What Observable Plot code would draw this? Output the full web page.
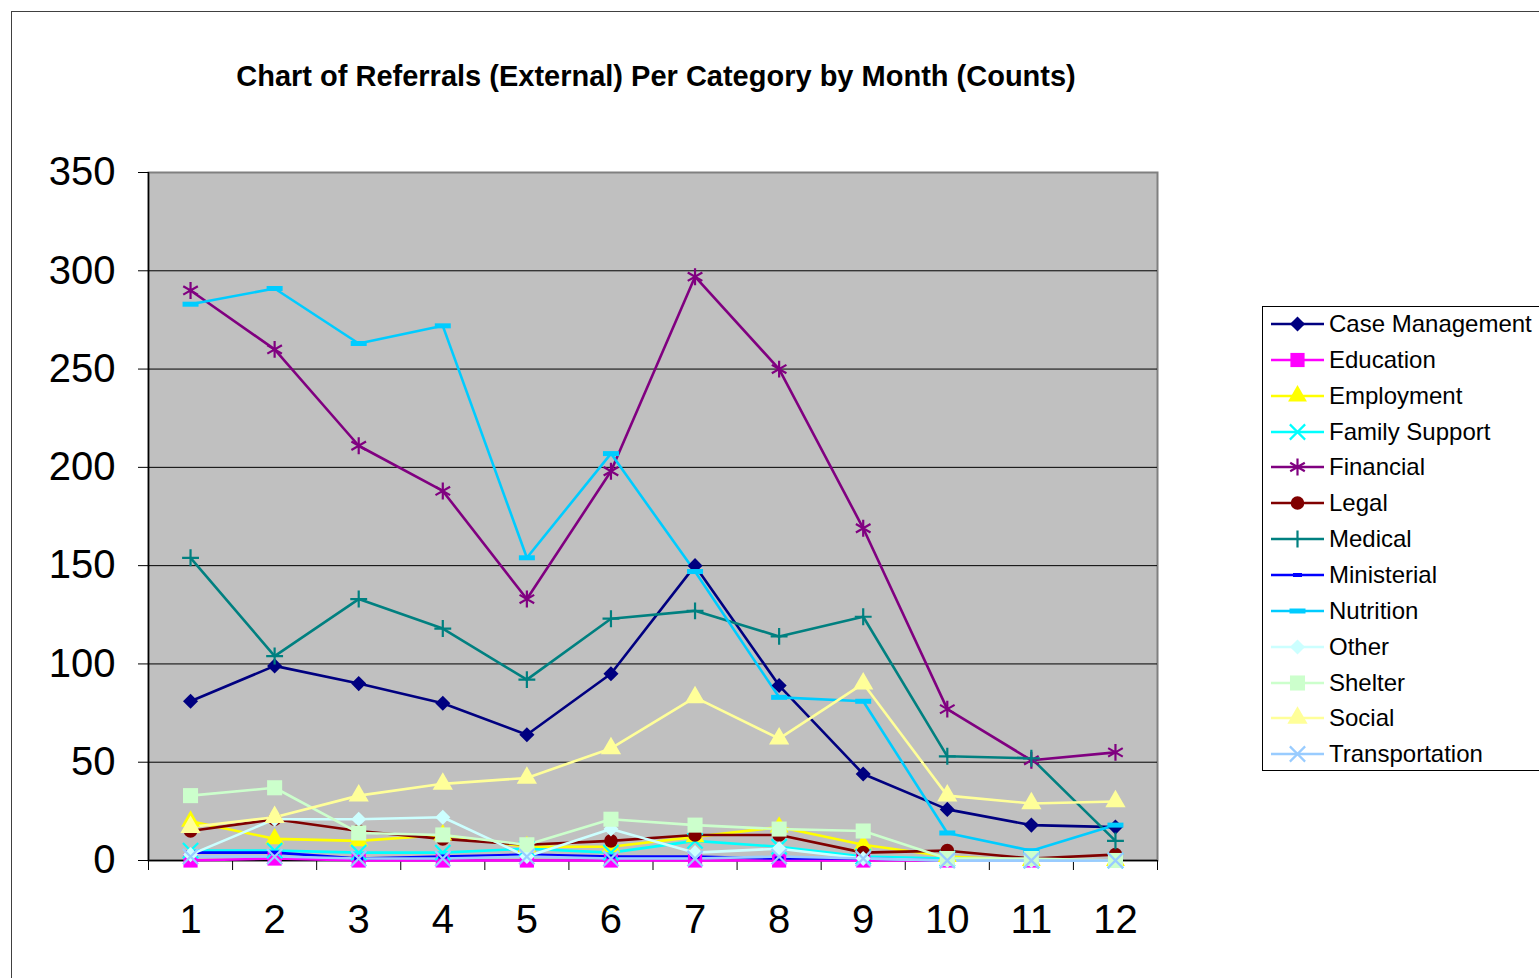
<!DOCTYPE html>
<html>
<head>
<meta charset="utf-8">
<script src="https://cdn.jsdelivr.net/npm/d3@7"></script>
<script src="https://cdn.jsdelivr.net/npm/@observablehq/plot@0.6"></script>
<style>
  html, body { margin: 0; padding: 0; background: #fff; overflow: hidden; }
  #wrap { position: relative; width: 1539px; height: 978px; font-family: "Liberation Sans", Arial, sans-serif; }
  #border { position: absolute; left: 11px; top: 11px; width: 1600px; height: 1100px; border: 1.5px solid #404040; box-sizing: border-box; }
  #title { position: absolute; left: 656px; top: 59px; transform: translateX(-50%); white-space: nowrap; font-weight: bold; font-size: 29px; line-height: 34px; color: #000; }
  #chart { position: absolute; left: 0; top: 0; }
  #legend { position: absolute; left: 1262px; top: 306px; width: 300px; height: 465px; border: 1.5px solid #000; box-sizing: border-box; background: #fff; }
  .row { position: absolute; left: 0; height: 36px; display: flex; align-items: center; }
  .row svg { display: block; margin-left: 6px; }
  .row span { font-size: 24px; color: #000; margin-left: 4px; white-space: nowrap; }
</style>
</head>
<body>
<div id="wrap">
  <div id="chart"></div>
  <div id="border"></div>
  <div id="title">Chart of Referrals (External) Per Category by Month (Counts)</div>
  <div id="legend"></div>
</div>
<script>
// ---- Data ----
const months = [1, 2, 3, 4, 5, 6, 7, 8, 9, 10, 11, 12];
const categories = ["Case Management", "Education", "Employment", "Family Support", "Financial", "Legal", "Medical", "Ministerial", "Nutrition", "Other", "Shelter", "Social", "Transportation"];
const caseManagement = [81, 99, 90, 80, 64, 95, 150, 89, 44, 26, 18, 17];
const education      = [0, 1, 0, 0, 0, 0, 0, 0, 0, 0, 0, 0];
const employment     = [20, 11, 10, 13, 7, 7, 12, 17, 8, 2, 0, 0];
const familySupport  = [5, 5, 4, 4, 6, 4, 10, 7, 2, 1, 0, 0];
const financial      = [290, 260, 211, 188, 133, 198, 297, 250, 169, 77, 51, 55];
const legal          = [15, 21, 15, 11, 8, 10, 13, 13, 4, 5, 1, 3];
const medical        = [154, 104, 133, 118, 92, 123, 127, 114, 124, 53, 52, 10];
const ministerial    = [4, 4, 1, 2, 3, 2, 2, 1, 1, 0, 0, 0];
const nutrition      = [283, 291, 263, 272, 154, 207, 147, 83, 81, 14, 5, 18];
const other          = [3, 21, 21, 22, 2, 16, 4, 6, 1, 0, 0, 0];
const shelter        = [33, 37, 14, 13, 8, 21, 18, 16, 15, 1, 1, 0];
const social         = [17, 22, 33, 39, 42, 57, 83, 62, 90, 33, 29, 30];
const transportation = [2, 2, 1, 1, 2, 1, 1, 2, 1, 0, 0, 0];
const yTicks = [0, 50, 100, 150, 200, 250, 300, 350];

const seriesValues = [caseManagement, education, employment, familySupport, financial, legal, medical, ministerial, nutrition, other, shelter, social, transportation];

// ---- Styles ----
const dashSymbol = (w, h) => ({ draw(ctx) { ctx.rect(-w / 2, -h / 2, w, h); } });
const styles = [
  { color: "#000080", symbol: "diamond2", r: 6.8, filled: true },
  { color: "#FF00FF", symbol: "square", r: 8, filled: true },
  { color: "#FFFF00", symbol: "triangle", r: 7, filled: true },
  { color: "#00FFFF", symbol: "times", r: 7, filled: false },
  { color: "#800080", symbol: "asterisk", r: 8, filled: false },
  { color: "#800000", symbol: "circle", r: 6.8, filled: true },
  { color: "#008080", symbol: "plus", r: 5.5, filled: false },
  { color: "#0000FF", symbol: dashSymbol(9, 4), r: 5, filled: true },
  { color: "#00CCFF", symbol: dashSymbol(16, 5), r: 5, filled: true },
  { color: "#CCFFFF", symbol: "diamond2", r: 6.8, filled: true },
  { color: "#CCFFCC", symbol: "square", r: 8.5, filled: true },
  { color: "#FFFF99", symbol: "triangle", r: 7.5, filled: true },
  { color: "#99CCFF", symbol: "times", r: 7, filled: false }
];

const table = categories.map((name, i) => months.map((m, j) => ({ category: name, month: m, value: seriesValues[i][j] })));

const marks = [
  Plot.frame({ fill: "#C0C0C0", stroke: "#808080", strokeWidth: 2 }),
  Plot.gridY({ ticks: yTicks.filter(t => t > 0 && t < 350), stroke: "#000", strokeOpacity: 1, strokeWidth: 1 }),
  Plot.ruleY([0], { stroke: "#000", strokeWidth: 1.5 }),
  Plot.ruleX([0.5], { stroke: "#000", strokeWidth: 1.5 }),
  Plot.axisY({ ticks: yTicks, tickSize: 10, tickPadding: 23, fontSize: 40, stroke: "#000", fill: "#000", label: null }),
  Plot.axisX({ ticks: d3.range(0.5, 13, 1), tickSize: 10, tickFormat: () => "", stroke: "#000", label: null }),
  Plot.axisX({ ticks: months, tickSize: 0, tickPadding: 44, fontSize: 40, fill: "#000", tickFormat: d => String(d), label: null })
];
table.forEach((rows, i) => {
  const s = styles[i];
  marks.push(Plot.line(rows, { x: "month", y: "value", stroke: s.color, strokeWidth: 2.6 }));
});
table.forEach((rows, i) => {
  const s = styles[i];
  const opts = { x: "month", y: "value", symbol: s.symbol, r: s.r };
  if (s.filled) { opts.fill = s.color; opts.stroke = "none"; }
  else { opts.stroke = s.color; opts.strokeWidth = 2.2; opts.fill = "none"; }
  marks.push(Plot.dot(rows, opts));
});

const chart = Plot.plot({
  width: 1539,
  height: 978,
  marginLeft: 148,
  marginRight: 382,
  marginTop: 172,
  marginBottom: 118,
  style: { fontFamily: "'Liberation Sans', Arial, sans-serif", background: "transparent", color: "#000" },
  x: { type: "linear", domain: [0.5, 12.5], axis: null, label: null },
  y: { type: "linear", domain: [0, 350], axis: null, label: null },
  marks
});
document.getElementById("chart").appendChild(chart);

// ---- Legend ----
const legend = document.getElementById("legend");
const symMap = {
  diamond2: d3.symbolDiamond2, square: d3.symbolSquare, triangle: d3.symbolTriangle,
  times: d3.symbolTimes, asterisk: d3.symbolAsterisk, circle: d3.symbolCircle, plus: d3.symbolPlus
};
categories.forEach((name, i) => {
  const s = styles[i];
  const row = document.createElement("div");
  row.className = "row";
  row.style.top = (i * 35.85 - 1) + "px";
  const svg = d3.create("svg").attr("width", 56).attr("height", 36);
  svg.append("line").attr("x1", 2).attr("x2", 55).attr("y1", 18).attr("y2", 18).attr("stroke", s.color).attr("stroke-width", 2.6);
  const symType = typeof s.symbol === "string" ? symMap[s.symbol] : s.symbol;
  const path = d3.symbol(symType, Math.PI * s.r * s.r)();
  const p = svg.append("path").attr("d", path).attr("transform", "translate(28.5,18)");
  if (s.filled) p.attr("fill", s.color);
  else p.attr("fill", "none").attr("stroke", s.color).attr("stroke-width", 2.2);
  row.appendChild(svg.node());
  const span = document.createElement("span");
  span.textContent = name;
  row.appendChild(span);
  legend.appendChild(row);
});
</script>
</body>
</html>
